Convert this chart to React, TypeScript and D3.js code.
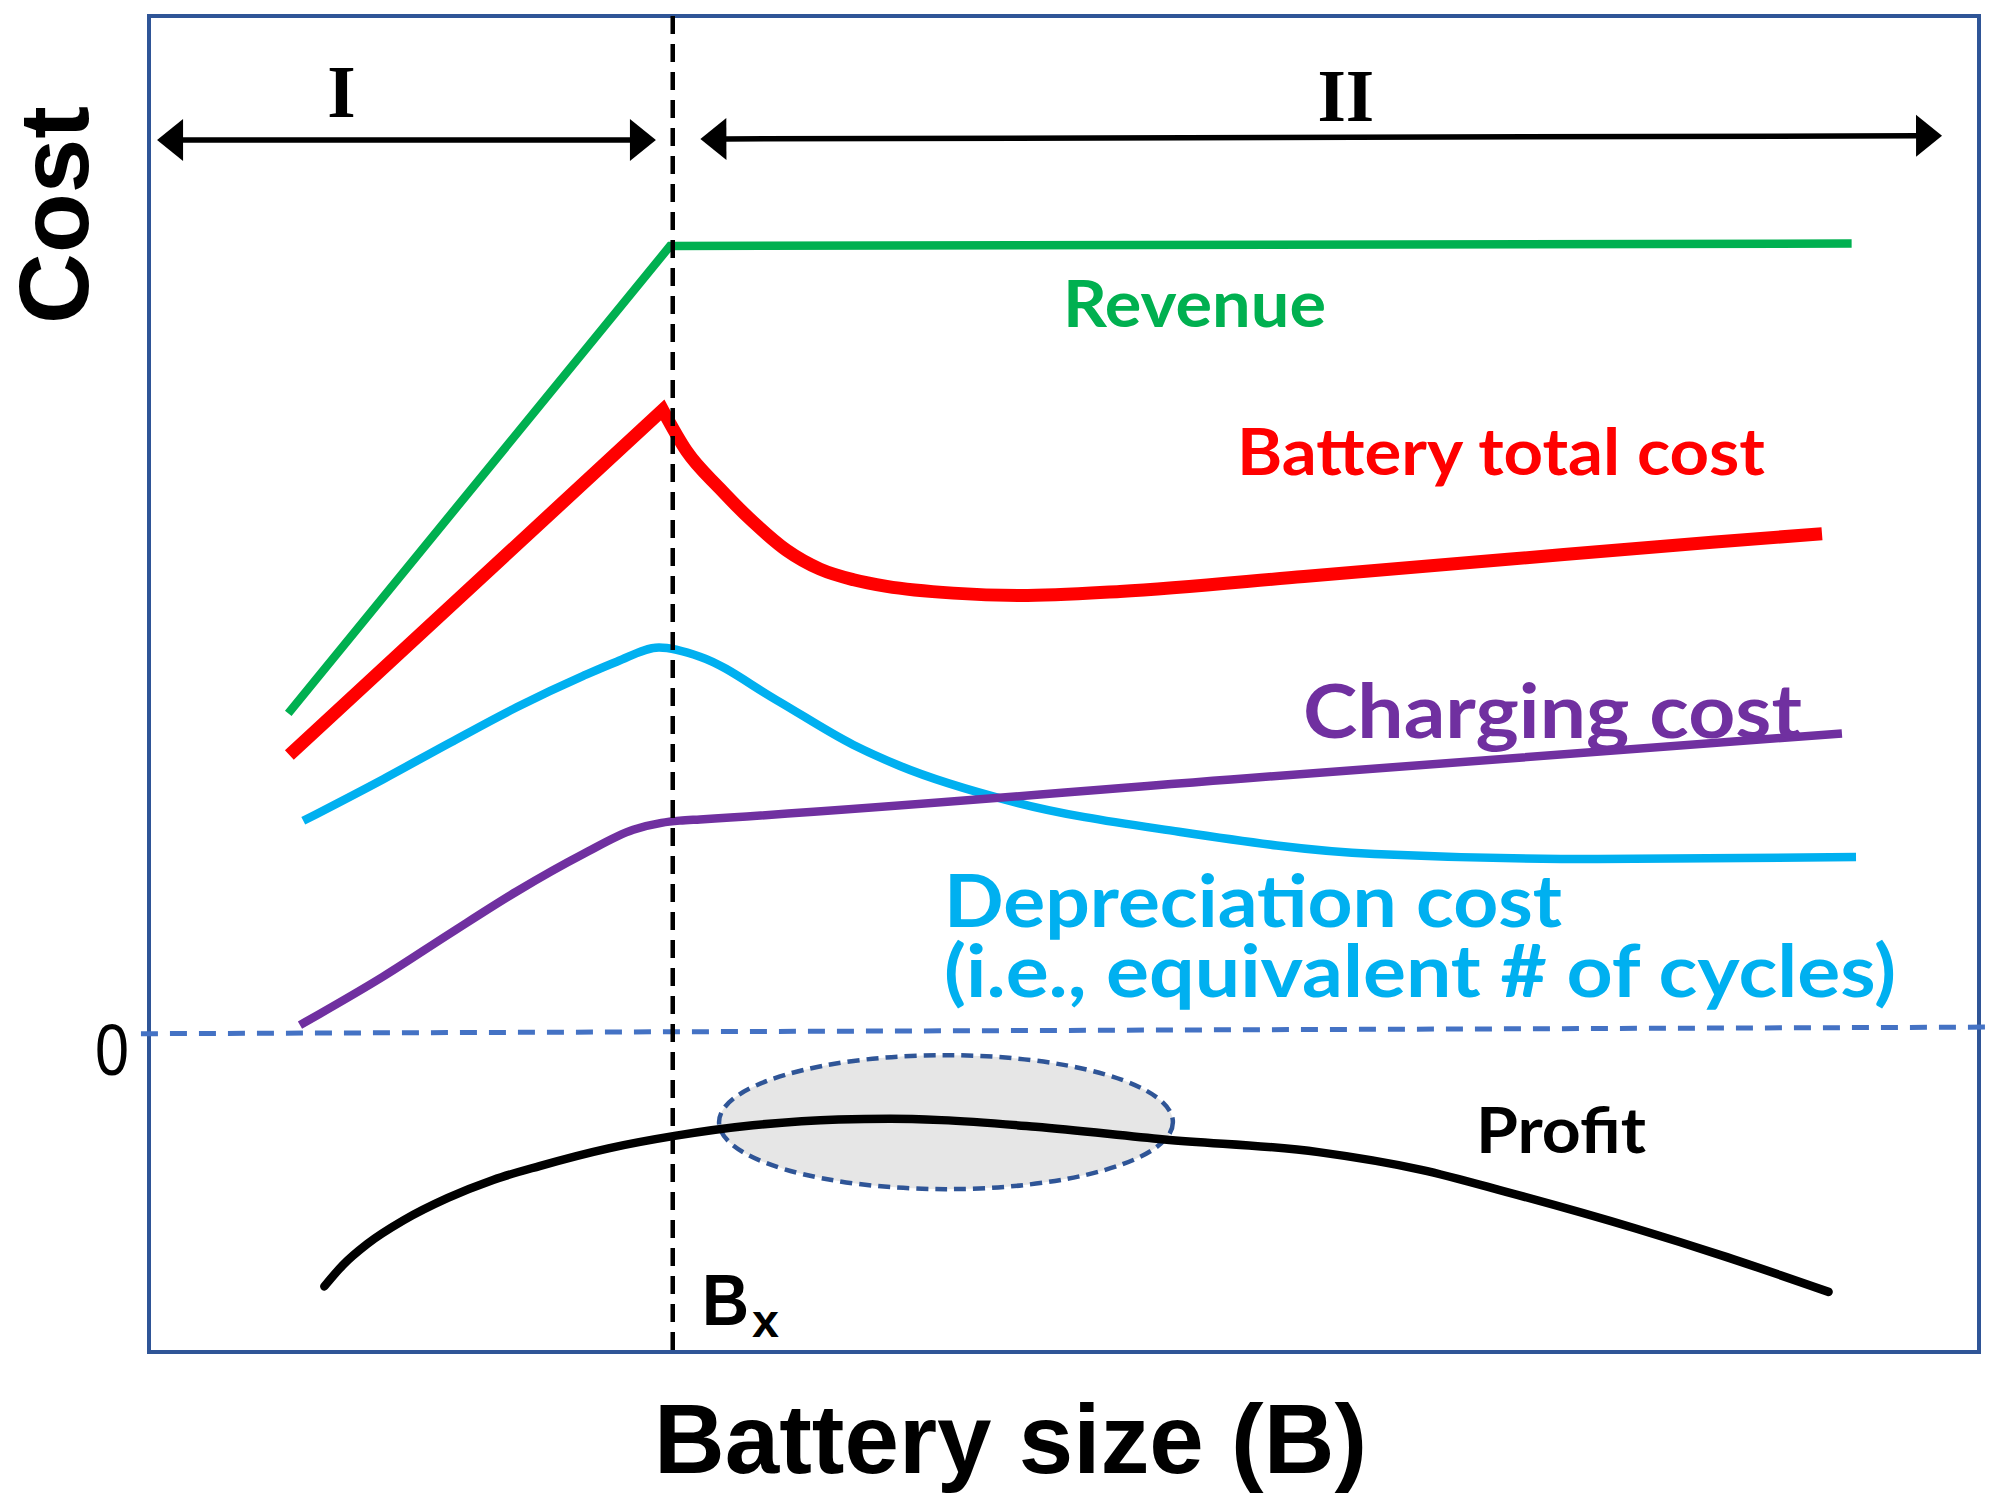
import React from 'react';
import * as d3 from 'd3';

const W = 1994;
const H = 1505;

type P = [number, number];

// x: battery size (arbitrary units 0..100), y: cost (0 = dashed zero line)
const revenue: P[] = [[7.61, 31.1], [28.47, 77.27], [93.04, 77.52]];
const totalCostRise: P[] = [[7.67, 26.98], [28.07, 61.07]];
const totalCostFall: P[] = [
  [28.07, 61.07], [29.38, 57.0], [31.2, 53.3], [33.02, 50.0], [34.85, 47.2],
  [36.67, 45.35], [38.5, 44.3], [40.31, 43.65], [43.95, 42.98], [47.6, 42.75],
  [53.06, 43.15], [63.11, 44.62], [74.26, 46.32], [85.41, 48.0], [91.42, 48.85],
];
const depreciationCost: P[] = [
  [8.43, 20.48], [12.8, 24.6], [16.45, 28.2], [20.09, 31.7], [23.73, 34.8],
  [25.56, 36.2], [27.87, 37.6], [30.11, 36.7], [34.29, 32.41], [38.47, 28.0],
  [41.04, 25.9], [47.14, 22.4], [56.28, 19.4], [66.97, 17.2], [79.17, 16.7],
  [93.28, 16.9],
];
const chargingCost: P[] = [
  [8.25, 0.3], [12.8, 5.1], [16.45, 9.35], [20.09, 13.5], [23.73, 17.2],
  [26.46, 19.6], [28.0, 20.28], [29.0, 20.5], [30.11, 20.62], [60.0, 24.69],
  [92.51, 29.12],
];
const profit: P[] = [
  [9.58, -25.52], [10.6, -23.4], [11.93, -21.32], [13.9, -19.0], [16.33, -16.78],
  [18.8, -15.0], [21.34, -13.63], [25.11, -11.88], [28.72, -10.65], [33.0, -9.6],
  [37.68, -9.02], [40.5, -8.95], [43.3, -9.09], [48.45, -9.75], [55.48, -11.0],
  [63.91, -12.25], [69.53, -14.0], [74.21, -16.2], [81.24, -19.8], [85.92, -22.45],
  [91.78, -26.06],
];
const zeroLine: P[] = [[-0.44, -0.55], [100.5, 0.1]];
const bx = 28.62; // threshold battery size B_x
const optimalRegion = { cx: 43.55, cy: -9.29, rx: 12.4, ry: 6.62 };
const regions = [
  { label: 'I', from: [0.44, 87.75] as P, to: [27.7, 87.75] as P },
  { label: 'II', from: [30.13, 87.85] as P, to: [97.98, 88.17] as P },
];
const yTickLabels = ['0'];

const x = d3.scaleLinear().domain([0, 100]).range([149, 1979]);
const y = d3.scaleLinear().domain([-32, 100]).range([1352, 16]);

const toPx = (pts: P[]): P[] => pts.map(([a, b]) => [x(a), y(b)] as P);
const lineLin = d3.line();
const lineSmooth = d3.line().curve(d3.curveMonotoneX);

function Arrow({ from, to }: { from: P; to: P }) {
  const [x0, y0] = [x(from[0]), y(from[1])];
  const [x1, y1] = [x(to[0]), y(to[1])];
  const ang = Math.atan2(y1 - y0, x1 - x0);
  const ux = Math.cos(ang), uy = Math.sin(ang);
  const nx = -uy, ny = ux;
  const L = 26, Hh = 21;
  const head = (tx: number, ty: number, dir: number) => {
    const bxp = tx - dir * ux * L, byp = ty - dir * uy * L;
    return `${tx},${ty} ${bxp + nx * Hh},${byp + ny * Hh} ${bxp - nx * Hh},${byp - ny * Hh}`;
  };
  return (
    <g>
      <line x1={x0 + ux * (L - 2)} y1={y0 + uy * (L - 2)} x2={x1 - ux * (L - 2)} y2={y1 - uy * (L - 2)}
        stroke="#000" strokeWidth={5.5} />
      <polygon points={head(x1, y1, 1)} fill="#000" />
      <polygon points={head(x0, y0, -1)} fill="#000" />
    </g>
  );
}

export default function App() {
  const redPath = (lineLin(toPx(totalCostRise)) as string) +
    (lineSmooth(toPx(totalCostFall)) as string).replace(/^M/, 'L');
  const labelFont = "Lato, 'Open Sans', 'Noto Sans', sans-serif";
  const arial = "'Liberation Sans', Arial, sans-serif";
  const narrow = "'Liberation Sans Narrow', 'Arial Narrow', 'Liberation Sans', sans-serif";
  const e = optimalRegion;
  return (
    <svg width={W} height={H} style={{ position: 'absolute', left: 0, top: 0, background: '#fff' }}>
      <rect x={0} y={0} width={W} height={H} fill="#fff" />
      {/* frame */}
      <rect x={x(0)} y={y(100)} width={x(100) - x(0)} height={y(-32) - y(100)}
        fill="none" stroke="#2F5597" strokeWidth={4} />
      {/* optimal region ellipse */}
      <ellipse cx={x(e.cx)} cy={y(e.cy)} rx={x(e.cx + e.rx) - x(e.cx)} ry={y(e.cy - e.ry) - y(e.cy)}
        fill="#E6E6E6" stroke="#2F5597" strokeWidth={4.5} strokeDasharray="12 7" />
      {/* zero line */}
      <path d={lineLin(toPx(zeroLine)) as string} fill="none" stroke="#4472C4" strokeWidth={5}
        strokeDasharray="17 12" />
      {/* curves */}
      <path d={lineLin(toPx(revenue)) as string} fill="none" stroke="#00B050" strokeWidth={8.5}
        strokeLinejoin="miter" />
      <path d={redPath} fill="none" stroke="#FF0000" strokeWidth={13} strokeLinejoin="miter" />
      <path d={lineSmooth(toPx(depreciationCost)) as string} fill="none" stroke="#00B0F0" strokeWidth={8.5} />
      <path d={lineSmooth(toPx(chargingCost)) as string} fill="none" stroke="#7030A0" strokeWidth={8.5} />
      <path d={lineSmooth(toPx(profit)) as string} fill="none" stroke="#000" strokeWidth={8.5} strokeLinecap="round" />
      {/* B_x dashed vertical */}
      <line x1={x(bx)} x2={x(bx)} y1={y(100)} y2={y(-32)} stroke="#000" strokeWidth={4.5}
        strokeDasharray="18 10" />
      {/* region arrows */}
      {regions.map((r) => (
        <Arrow key={r.label} from={r.from} to={r.to} />
      ))}
      <text x={341.5} y={116.7} textAnchor="middle" fontFamily="'Liberation Serif', 'Times New Roman', serif"
        fontWeight="bold" fontSize={73}>I</text>
      <text x={1345.8} y={120.7} textAnchor="middle" fontFamily="'Liberation Serif', 'Times New Roman', serif"
        fontWeight="bold" fontSize={73}>II</text>
      {/* axis titles */}
      <text transform="translate(88,215) rotate(-90)" textAnchor="middle" fontFamily={arial}
        fontWeight="bold" fontSize={98}>Cost</text>
      <text x={654} y={1473} fontFamily={arial} fontWeight="bold" fontSize={98}
        textLength={713} lengthAdjust="spacingAndGlyphs">Battery size (B)</text>
      {yTickLabels.map((t) => (
        <text key={t} x={95} y={y(0) + 46.5} fontFamily={narrow} fontSize={72}
          textLength={34} lengthAdjust="spacingAndGlyphs">{t}</text>
      ))}
      {/* series labels */}
      <text x={1063} y={327} fill="#00B050" fontFamily={labelFont} fontWeight="bold" fontSize={65}
        textLength={263} lengthAdjust="spacingAndGlyphs">Revenue</text>
      <text x={1237} y={475} fill="#FF0000" fontFamily={labelFont} fontWeight="bold" fontSize={65}
        textLength={528} lengthAdjust="spacingAndGlyphs">Battery total cost</text>
      <text x={1303} y={738} fill="#7030A0" fontFamily={labelFont} fontWeight="bold" fontSize={74}
        textLength={499} lengthAdjust="spacingAndGlyphs">Charging cost</text>
      <text fill="#00B0F0" fontFamily={labelFont} fontWeight="bold" fontSize={72}>
        <tspan x={944} y={927} textLength={618} lengthAdjust="spacingAndGlyphs">Depreciation cost</tspan>
        <tspan x={944} y={997} textLength={952} lengthAdjust="spacingAndGlyphs">(i.e., equivalent # of cycles)</tspan>
      </text>
      <text x={1476} y={1153} fill="#000" fontFamily={labelFont} fontWeight="bold" fontSize={64}
        textLength={170} lengthAdjust="spacingAndGlyphs">Profit</text>
      <text x={702} y={1325} fill="#000" fontFamily={narrow} fontWeight="bold" fontSize={72}
        textLength={47} lengthAdjust="spacingAndGlyphs">B</text>
      <text x={752} y={1337} fill="#000" fontFamily={narrow} fontWeight="bold" fontSize={46}
        textLength={27} lengthAdjust="spacingAndGlyphs">x</text>
    </svg>
  );
}
